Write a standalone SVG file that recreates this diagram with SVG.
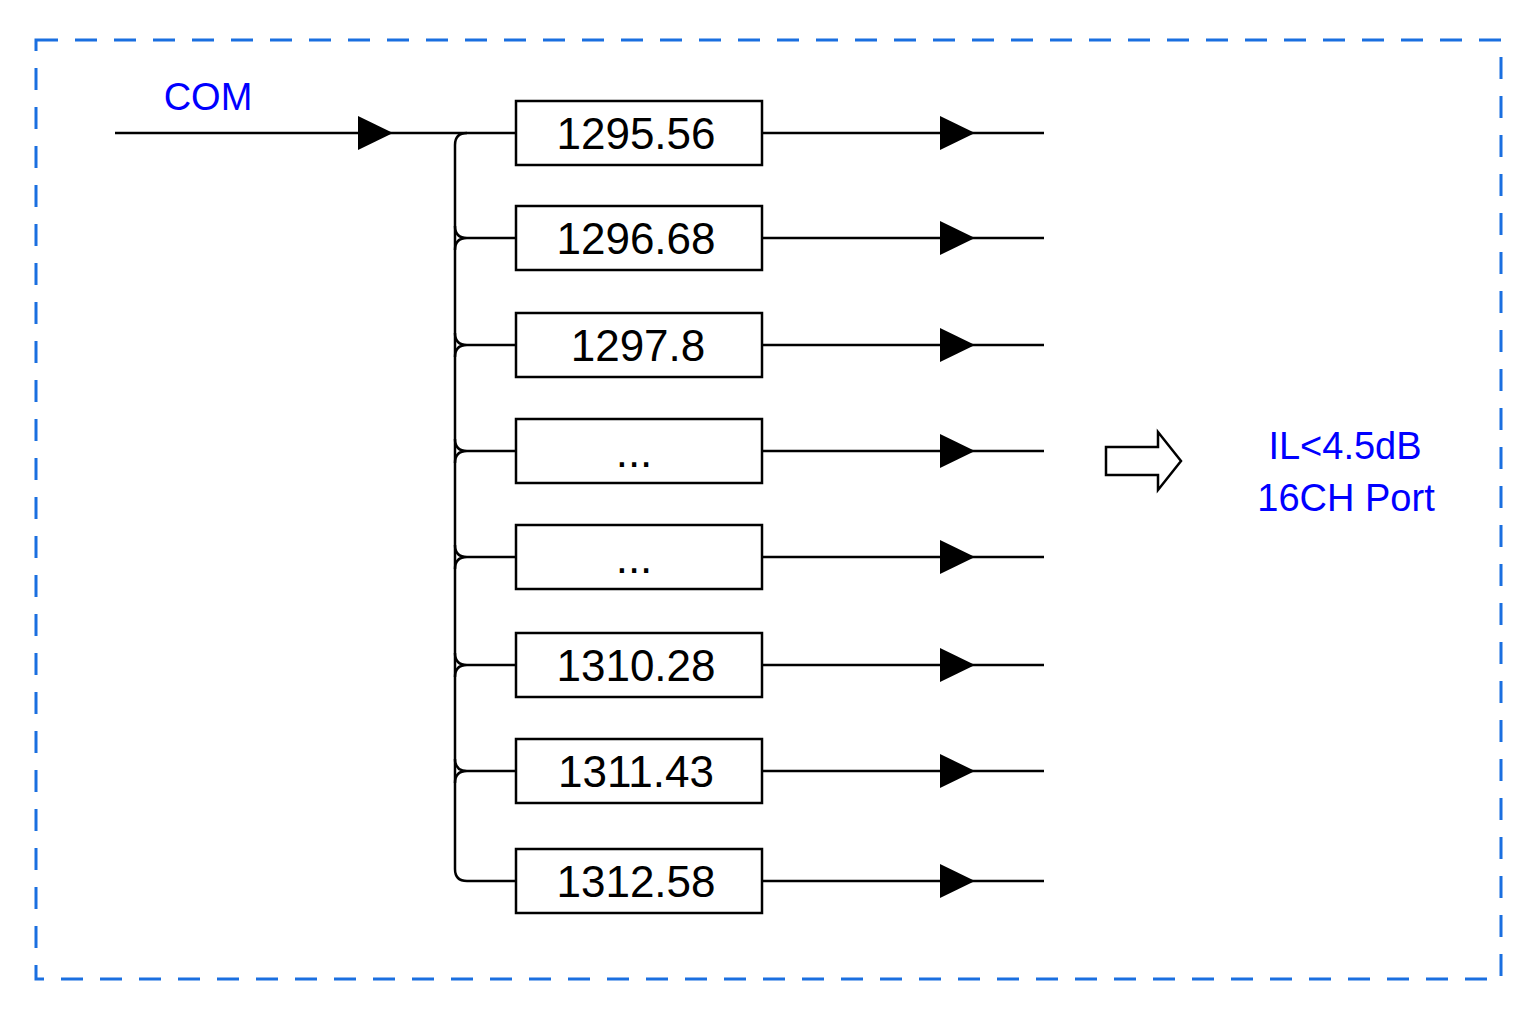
<svg xmlns="http://www.w3.org/2000/svg" width="1536" height="1024" viewBox="0 0 1536 1024">
<style>
.box{fill:#fff;stroke:#000;stroke-width:2.5}
.ln{fill:none;stroke:#000;stroke-width:2.5}
.t{font-family:"Liberation Sans",Arial,sans-serif;font-size:44px;text-anchor:middle;fill:#000}
.b{font-family:"Liberation Sans",Arial,sans-serif;font-size:38px;text-anchor:middle;fill:#0000ff}
</style>
<defs>
<marker id="ar" markerWidth="36" markerHeight="34" refX="35" refY="17" orient="auto" markerUnits="userSpaceOnUse">
<path d="M0,0 L35,17 L0,34 Z" fill="#000"/>
</marker>
</defs>
<rect width="1536" height="1024" fill="#fff"/>
<rect x="36" y="40" width="1465" height="939" fill="none" stroke="#1a6fe0" stroke-width="3" stroke-dasharray="22 17"/>
<text class="b" x="208" y="110">COM</text>
<g id="connectors">
<path class="ln" d="M115,133 L393,133" marker-end="url(#ar)"/>
<path class="ln" d="M393,133 L516,133"/>
<path class="ln" d="M467,133 Q455,133 455,145 L455,869 Q455,881 467,881 L516,881"/>
<path class="ln" d="M455,226 Q455,238 467,238 L516,238 M455,250 Q455,238 467,238"/>
<path class="ln" d="M455,333 Q455,345 467,345 L516,345 M455,357 Q455,345 467,345"/>
<path class="ln" d="M455,439 Q455,451 467,451 L516,451 M455,463 Q455,451 467,451"/>
<path class="ln" d="M455,545 Q455,557 467,557 L516,557 M455,569 Q455,557 467,557"/>
<path class="ln" d="M455,653 Q455,665 467,665 L516,665 M455,677 Q455,665 467,665"/>
<path class="ln" d="M455,759 Q455,771 467,771 L516,771 M455,783 Q455,771 467,771"/>
<g>
<path class="ln" d="M762,133 L975,133" marker-end="url(#ar)"/><path class="ln" d="M975,133 L1044,133"/>
<path class="ln" d="M762,238 L975,238" marker-end="url(#ar)"/><path class="ln" d="M975,238 L1044,238"/>
<path class="ln" d="M762,345 L975,345" marker-end="url(#ar)"/><path class="ln" d="M975,345 L1044,345"/>
<path class="ln" d="M762,451 L975,451" marker-end="url(#ar)"/><path class="ln" d="M975,451 L1044,451"/>
<path class="ln" d="M762,557 L975,557" marker-end="url(#ar)"/><path class="ln" d="M975,557 L1044,557"/>
<path class="ln" d="M762,665 L975,665" marker-end="url(#ar)"/><path class="ln" d="M975,665 L1044,665"/>
<path class="ln" d="M762,771 L975,771" marker-end="url(#ar)"/><path class="ln" d="M975,771 L1044,771"/>
<path class="ln" d="M762,881 L975,881" marker-end="url(#ar)"/><path class="ln" d="M975,881 L1044,881"/>
</g>
</g>
<g id="n1"><rect class="box" x="516" y="101" width="246" height="64"/><text class="t" x="636" y="149">1295.56</text></g>
<g id="n2"><rect class="box" x="516" y="206" width="246" height="64"/><text class="t" x="636" y="254">1296.68</text></g>
<g id="n3"><rect class="box" x="516" y="313" width="246" height="64"/><text class="t" x="638" y="361">1297.8</text></g>
<g id="n4"><rect class="box" x="516" y="419" width="246" height="64"/><text class="t" x="634" y="467">...</text></g>
<g id="n5"><rect class="box" x="516" y="525" width="246" height="64"/><text class="t" x="634" y="573">...</text></g>
<g id="n6"><rect class="box" x="516" y="633" width="246" height="64"/><text class="t" x="636" y="681">1310.28</text></g>
<g id="n7"><rect class="box" x="516" y="739" width="246" height="64"/><text class="t" x="636" y="787">1311.43</text></g>
<g id="n8"><rect class="box" x="516" y="849" width="246" height="64"/><text class="t" x="636" y="897">1312.58</text></g>
<g id="bigarrow"><polygon points="1106,447 1158,447 1158,432 1181,461 1158,490 1158,475 1106,475" fill="#fff" stroke="#000" stroke-width="2.5"/></g>
<g id="label"><text class="b" x="1345" y="459">IL&lt;4.5dB</text><text class="b" x="1346" y="511">16CH Port</text></g>
</svg>
